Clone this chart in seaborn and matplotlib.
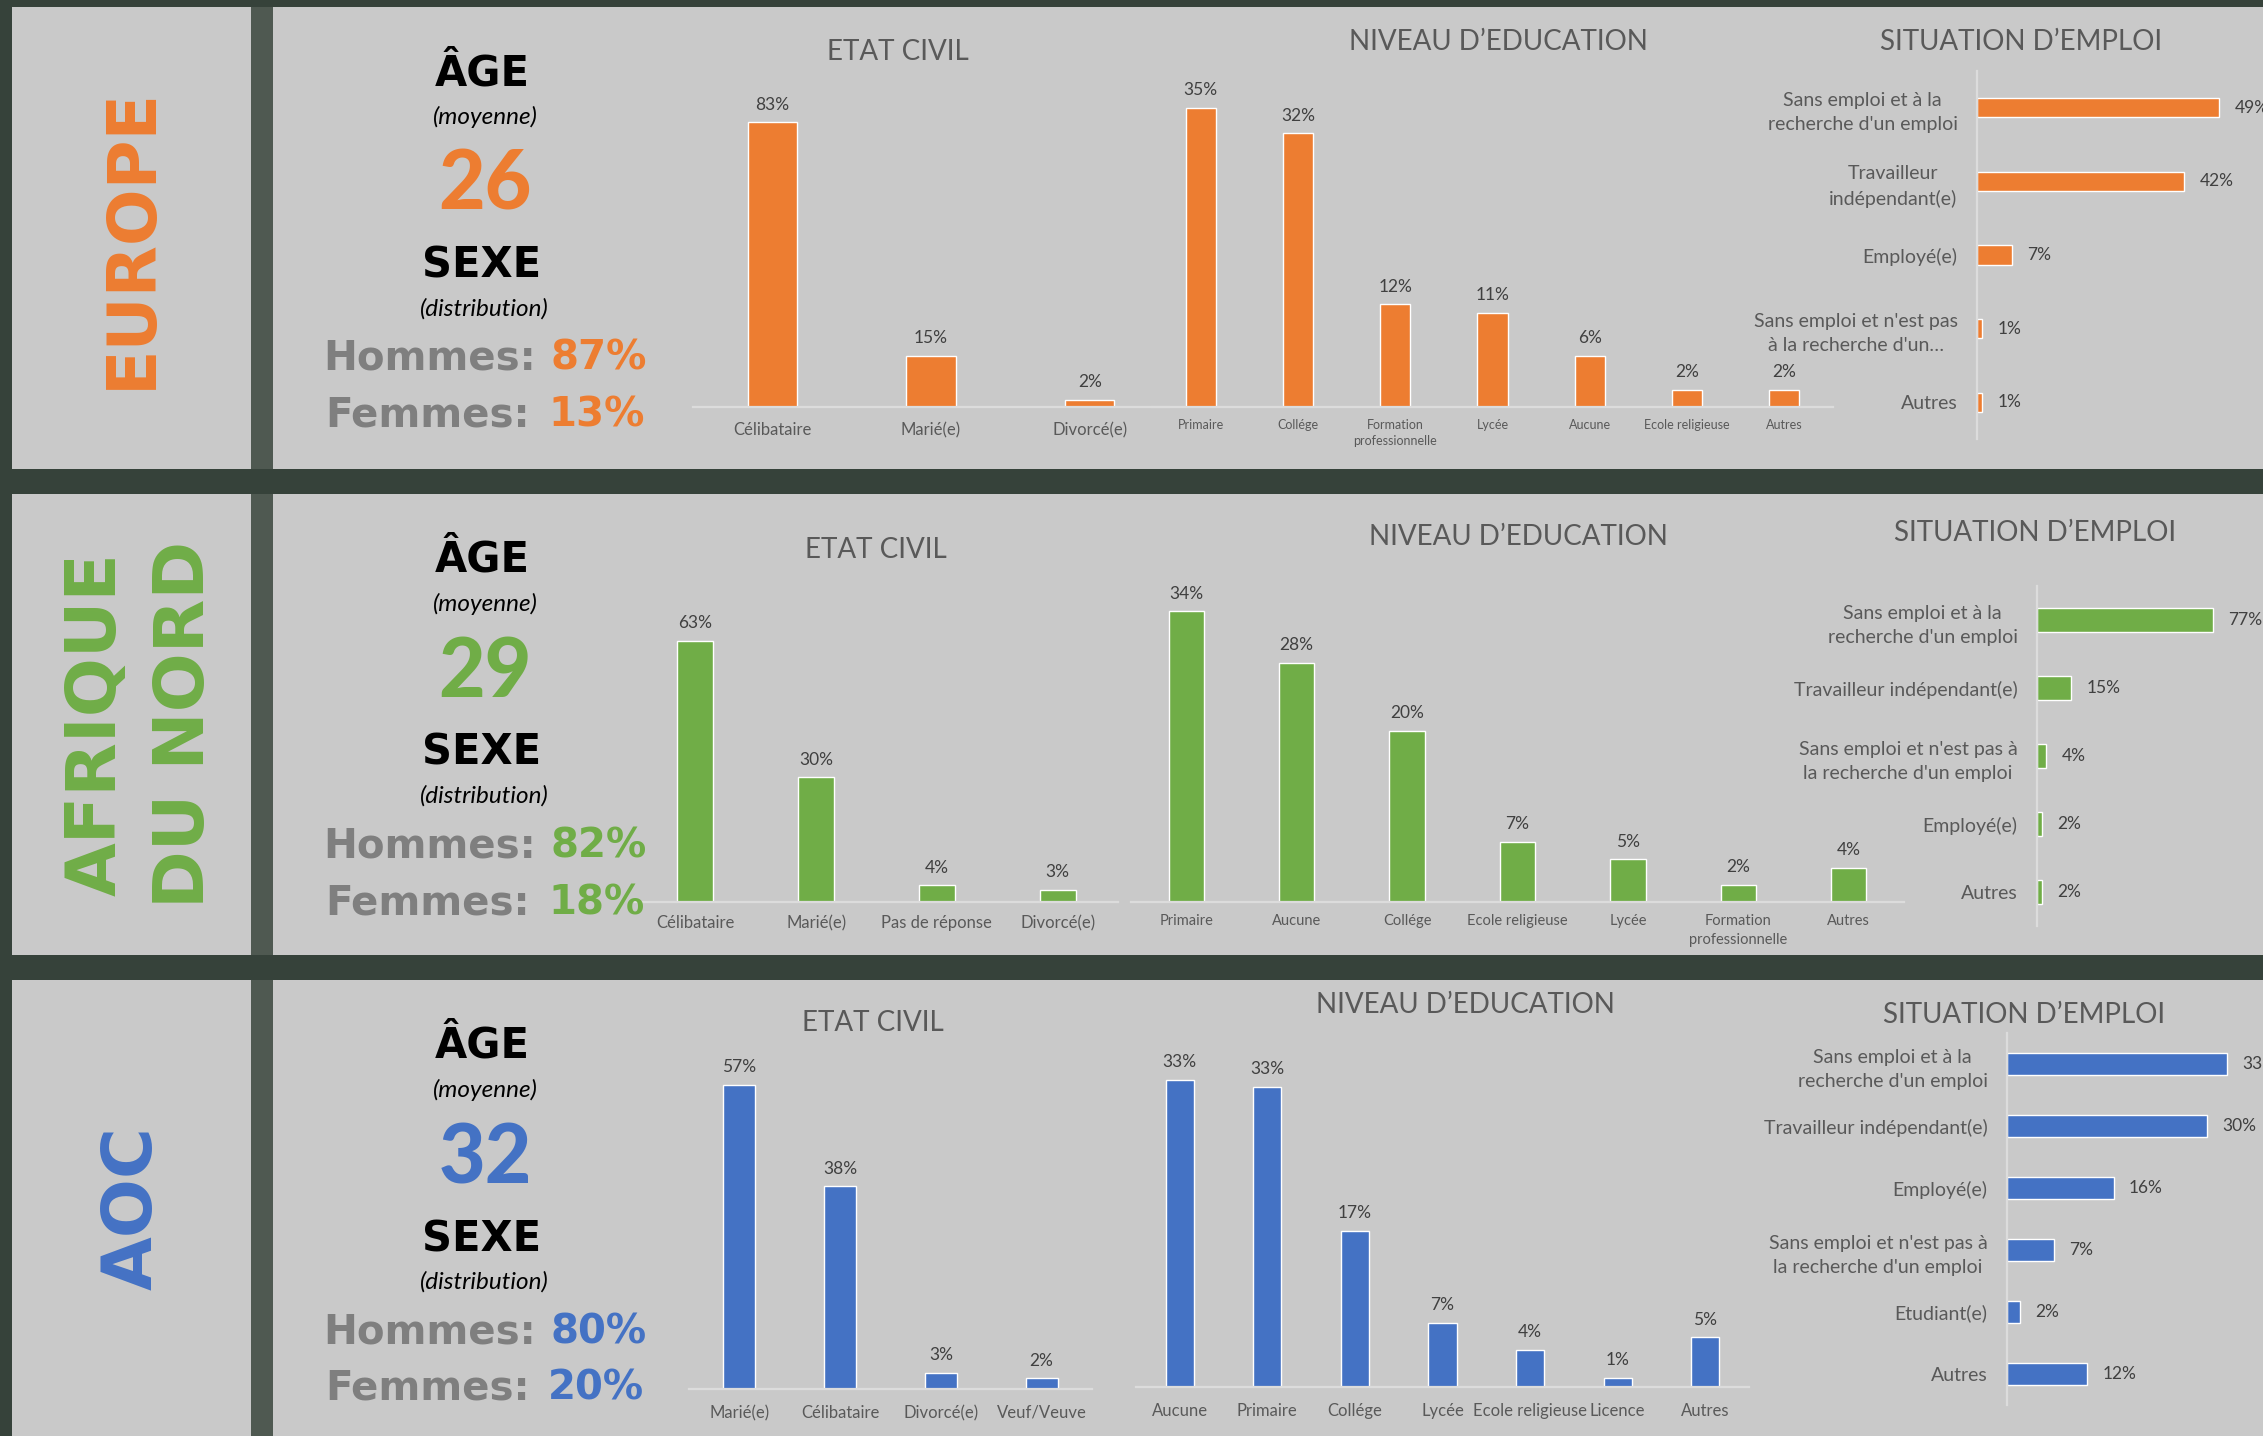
import matplotlib
matplotlib.use("Agg")
import matplotlib.pyplot as plt
from matplotlib.patches import Rectangle
import seaborn as sns
import pandas as pd

W, H = 2263, 1436

# colours
BG = "#36423a"
STRIP = "#4f5951"
PANEL = "#c9c9c9"
AXIS = "#dcdcdc"
TXT = "#595959"
VAL = "#404040"
GREY = "#7f7f7f"
ORANGE = "#ed7d31"
GREEN = "#70ad47"
BLUE = "#4472c4"

# ---- data ----
regions = ["EUROPE", "AFRIQUE\nDU NORD", "AOC"]
region_colors = [ORANGE, GREEN, BLUE]
ages = [26, 29, 32]
hommes = [87, 82, 80]
femmes = [13, 18, 20]

eu_civil_cats = ["Célibataire", "Marié(e)", "Divorcé(e)"]
eu_civil_vals = [83, 15, 2]
eu_edu_cats = ["Primaire", "Collége", "Formation\nprofessionnelle", "Lycée",
               "Aucune", "Ecole religieuse", "Autres"]
eu_edu_vals = [35, 32, 12, 11, 6, 2, 2]
eu_job_cats = ["Sans emploi et à la\nrecherche d'un emploi", "Travailleur\nindépendant(e)",
               "Employé(e)", "Sans emploi et n'est pas\nà la recherche d'un…", "Autres"]
eu_job_vals = [49, 42, 7, 1, 1]

an_civil_cats = ["Célibataire", "Marié(e)", "Pas de réponse", "Divorcé(e)"]
an_civil_vals = [63, 30, 4, 3]
an_edu_cats = ["Primaire", "Aucune", "Collége", "Ecole religieuse", "Lycée",
               "Formation\nprofessionnelle", "Autres"]
an_edu_vals = [34, 28, 20, 7, 5, 2, 4]
an_job_cats = ["Sans emploi et à la\nrecherche d'un emploi", "Travailleur indépendant(e)",
               "Sans emploi et n'est pas à\nla recherche d'un emploi", "Employé(e)", "Autres"]
an_job_vals = [77, 15, 4, 2, 2]

aoc_civil_cats = ["Marié(e)", "Célibataire", "Divorcé(e)", "Veuf/Veuve"]
aoc_civil_vals = [57, 38, 3, 2]
aoc_edu_cats = ["Aucune", "Primaire", "Collége", "Lycée", "Ecole religieuse", "Licence", "Autres"]
aoc_edu_vals = [33.4, 32.6, 17, 7, 4, 1, 5.4]
aoc_job_cats = ["Sans emploi et à la\nrecherche d'un emploi", "Travailleur indépendant(e)",
                "Employé(e)", "Sans emploi et n'est pas à\nla recherche d'un emploi",
                "Etudiant(e)", "Autres"]
aoc_job_vals = [33, 30, 16, 7, 2, 12]

sns.set_theme(style="white")
plt.rcParams["font.family"] = ["Lato", "DejaVu Sans"]

fig = plt.figure(figsize=(W / 100, H / 100), dpi=100)
fig.patch.set_facecolor(BG)


def fx(x):
    return x / W


def fy(y):
    return 1 - y / H


def block(x0, y0, x1, y1, color):
    fig.add_artist(Rectangle((fx(x0), fy(y1)), (x1 - x0) / W, (y1 - y0) / H,
                             transform=fig.transFigure, facecolor=color,
                             edgecolor="none", zorder=0))


def ftext(x, y, s, **kw):
    return fig.text(fx(x), fy(y), s, **kw)


def style(ax, keep):
    ax.patch.set_visible(False)
    for side, sp in ax.spines.items():
        sp.set_visible(side == keep)
    ax.spines[keep].set_color(AXIS)
    ax.spines[keep].set_linewidth(1.6)
    ax.set_xlabel("")
    ax.set_ylabel("")


def vbar(cats, vals, color, box, px_per, width, tick_fs, tick_pad):
    x0, x1, y0, y1 = box
    ax = fig.add_axes([fx(x0), fy(y1), (x1 - x0) / W, (y1 - y0) / H])
    df = pd.DataFrame({"cat": cats, "val": vals})
    sns.barplot(data=df, x="cat", y="val", color=color, saturation=1,
                width=width, errorbar=None, ax=ax)
    ax.set_xlim(-0.5, len(cats) - 0.5)
    ax.set_ylim(0, (y1 - y0) / px_per)
    ax.bar_label(ax.containers[0], labels=[f"{v:.0f}%" for v in vals],
                 padding=7, fontsize=12.5, color=VAL)
    style(ax, "bottom")
    ax.set_yticks([])
    ax.tick_params(axis="x", length=0, pad=tick_pad, labelsize=tick_fs, labelcolor=TXT)
    for t in ax.get_xticklabels():
        t.set_linespacing(1.45)
    return ax


def hbar(cats, vals, color, box, px_per, height, tick_fs):
    x0, x1, y0, y1 = box
    ax = fig.add_axes([fx(x0), fy(y1), (x1 - x0) / W, (y1 - y0) / H])
    df = pd.DataFrame({"cat": cats, "val": vals})
    sns.barplot(data=df, x="val", y="cat", orient="h", color=color, saturation=1,
                width=height, errorbar=None, ax=ax)
    ax.set_xlim(0, (x1 - x0) / px_per)
    ax.set_ylim(len(cats) - 0.5, -0.5)
    ax.bar_label(ax.containers[0], labels=[f"{v:.0f}%" for v in vals],
                 padding=11, fontsize=12.5, color=VAL)
    style(ax, "left")
    ax.set_xticks([])
    ax.tick_params(axis="y", length=0, pad=14, labelsize=tick_fs, labelcolor=TXT)
    for t in ax.get_yticklabels():
        t.set_multialignment("center")
        t.set_linespacing(1.5)
    return ax


# ---- panels ----
row_tops = [7, 494, 980]
row_bots = [469, 955, 1436]
for top, bot in zip(row_tops, row_bots):
    block(12, top, 251, bot, PANEL)
    block(251, top, 273, bot, STRIP)
    block(273, top, W, bot, PANEL)

renderer = fig.canvas.get_renderer()

# ---- left summary blocks ----
region_x = [132, 140, 132]
for i in range(3):
    top = row_tops[i]
    c = region_colors[i]
    cx = 482
    mid = (row_tops[i] + row_bots[i]) / 2
    size = 48 if i == 0 else 50
    ftext(region_x[i], mid, regions[i], rotation=90, ha="center", va="center",
          family="DejaVu Sans", weight="bold", size=size, color=c,
          linespacing=1.4, multialignment="center")

    ftext(cx, top + 78, "ÂGE", ha="center", va="baseline", family="DejaVu Sans",
          weight="bold", size=30, color="black")
    ftext(cx + 3, top + 110, "(moyenne)", ha="center", va="center", style="italic",
          size=17.5, color="black")
    ftext(cx + 3, top + 203, str(ages[i]), ha="center", va="baseline", weight="black",
          size=58, color=c)
    ftext(cx, top + 271, "SEXE", ha="center", va="baseline", family="DejaVu Sans",
          weight="bold", size=30, color="black")
    ftext(cx + 2, top + 302, "(distribution)", ha="center", va="center", style="italic",
          size=17.5, color="black")

    for label, val, yb, gap in [("Hommes:", hommes[i], top + 363, 15),
                                ("Femmes:", femmes[i], top + 420, 18)]:
        t1 = ftext(0, yb, label, ha="left", va="baseline", family="DejaVu Sans",
                   weight="bold", size=29, color=GREY)
        t2 = ftext(0, yb, f"{val}%", ha="left", va="baseline", family="DejaVu Sans",
                   weight="bold", size=29, color=c)
        w1 = t1.get_window_extent(renderer).width
        w2 = t2.get_window_extent(renderer).width
        x0 = 485 - (w1 + gap + w2) / 2
        t1.set_x(fx(x0))
        t2.set_x(fx(x0 + w1 + gap))

# ---- chart titles ----
titles = [("ETAT CIVIL", 898, 52), ("NIVEAU D’EDUCATION", 1498, 42), ("SITUATION D’EMPLOI", 2021, 42),
          ("ETAT CIVIL", 876, 550), ("NIVEAU D’EDUCATION", 1518, 537), ("SITUATION D’EMPLOI", 2035, 533),
          ("ETAT CIVIL", 873, 1023), ("NIVEAU D’EDUCATION", 1465, 1005), ("SITUATION D’EMPLOI", 2024, 1015)]
for s, x, y in titles:
    ftext(x, y, s, ha="center", va="center", size=20, color=TXT)

# ---- Europe ----
vbar(eu_civil_cats, eu_civil_vals, ORANGE, (693, 1169, 60, 407), 3.43, 0.31, 12, 11)
vbar(eu_edu_cats, eu_edu_vals, ORANGE, (1152, 1833, 60, 407), 8.55, 0.31, 9, 8.5)
hbar(eu_job_cats, eu_job_vals, ORANGE, (1977, W, 71, 439), 4.94, 0.26, 14)

# ---- Afrique du Nord ----
vbar(an_civil_cats, an_civil_vals, GREEN, (635, 1118, 560, 902), 4.15, 0.30, 12, 9.5)
vbar(an_edu_cats, an_edu_vals, GREEN, (1131, 1904, 560, 902), 8.55, 0.32, 10.5, 8.5)
hbar(an_job_cats, an_job_vals, GREEN, (2037, W, 586, 926), 2.28, 0.35, 14)

# ---- AOC ----
vbar(aoc_civil_cats, aoc_civil_vals, BLUE, (689, 1092, 1040, 1389), 5.33, 0.32, 12, 11.5)
vbar(aoc_edu_cats, aoc_edu_vals, BLUE, (1136, 1749, 1040, 1387), 9.2, 0.32, 12, 11.5)
hbar(aoc_job_cats, aoc_job_vals, BLUE, (2007, W, 1033, 1405), 6.67, 0.35, 14)

fig.savefig("out.png", dpi=100, facecolor=BG)
